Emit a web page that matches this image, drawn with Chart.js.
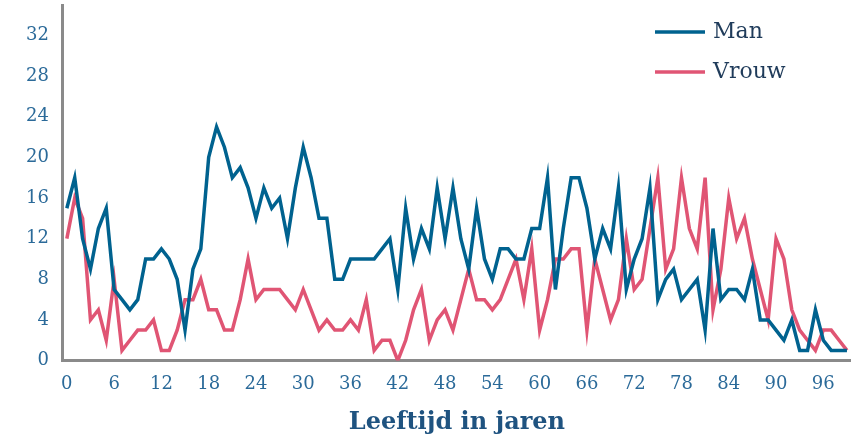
<!DOCTYPE html>
<html>
<head>
<meta charset="utf-8">
<script src="https://cdn.jsdelivr.net/npm/chart.js@4.4.1/dist/chart.umd.min.js"></script>
<style>
  html, body { margin: 0; padding: 0; background: #ffffff; }
  #wrap { width: 860px; height: 440px; position: relative; }
</style>
</head>
<body>
<div id="wrap"><canvas id="ageChart"></canvas></div>
<script>
// ages 0..99
const ages = Array.from({ length: 100 }, (_, i) => String(i));

const man = [
  15, 18, 12, 9, 13, 15, 7, 6, 5, 6,
  10, 10, 11, 10, 8, 3, 9, 11, 20, 23,
  21, 18, 19, 17, 14, 17, 15, 16, 12, 17,
  21, 18, 14, 14, 8, 8, 10, 10, 10, 10,
  11, 12, 7, 15, 10, 13, 11, 17, 12, 17,
  12, 9, 15, 10, 8, 11, 11, 10, 10, 13,
  13, 18, 7, 13, 18, 18, 15, 10, 13, 11,
  17, 7, 10, 12, 17, 6, 8, 9, 6, 7,
  8, 3, 13, 6, 7, 7, 6, 9, 4, 4,
  3, 2, 4, 1, 1, 5, 2, 1, 1, 1
];

const vrouw = [
  12, 16, 14, 4, 5, 2, 8, 1, 2, 3,
  3, 4, 1, 1, 3, 6, 6, 8, 5, 5,
  3, 3, 6, 10, 6, 7, 7, 7, 6, 5,
  7, 5, 3, 4, 3, 3, 4, 3, 6, 1,
  2, 2, 0, 2, 5, 7, 2, 4, 5, 3,
  6, 9, 6, 6, 5, 6, 8, 10, 6, 11,
  3, 6, 10, 10, 11, 11, 3, 10, 7, 4,
  6, 12, 7, 8, 13, 18, 9, 11, 18, 13,
  11, 18, 5, 9, 16, 12, 14, 10, 7, 4,
  12, 10, 5, 3, 2, 1, 3, 3, 2, 1
];

const xTickStep = 6;
const yTickStep = 4;

const serif = "'DejaVu Serif', 'Liberation Serif', serif";

// legend drawn inside the plot, top right, like the original
const cornerLegend = {
    id: 'cornerLegend',
    afterDraw(chart) {
        const ctx = chart.ctx;
        ctx.save();
        chart.data.datasets.forEach(function(ds, i) {
            const y = 32 + i * 40;
            ctx.strokeStyle = ds.borderColor;
            ctx.lineWidth = 3.5;
            ctx.beginPath();
            ctx.moveTo(655, y);
            ctx.lineTo(705, y);
            ctx.stroke();
            ctx.fillStyle = '#1f3b5a';
            ctx.font = "22px " + serif;
            ctx.textBaseline = 'middle';
            ctx.textAlign = 'left';
            ctx.fillText(ds.label, 713, y);
        });
        ctx.restore();
    }
};

new Chart(document.getElementById('ageChart'), {
    type: 'line',
    data: {
        labels: ages,
        datasets: [
            {
                label: 'Man',
                data: man,
                borderColor: '#00628f',
                borderWidth: 3.5,
                pointRadius: 0,
                tension: 0
            },
            {
                label: 'Vrouw',
                data: vrouw,
                borderColor: '#e05574',
                borderWidth: 3.5,
                pointRadius: 0,
                tension: 0
            }
        ]
    },
    options: {
        responsive: true,
        maintainAspectRatio: false,
        animation: false,
        layout: {
            padding: { left: 12, right: 8, top: 5, bottom: 0 }
        },
        plugins: {
            legend: { display: false },
            tooltip: { enabled: false }
        },
        scales: {
            x: {
                type: 'category',
                offset: true,
                grid: { display: false, drawTicks: false },
                border: { display: true, color: '#8a8a8a', width: 3 },
                ticks: {
                    autoSkip: false,
                    maxRotation: 0,
                    padding: 13,
                    color: '#2b6a99',
                    font: { family: serif, size: 18 },
                    callback: function(value, index) {
                        return index % xTickStep === 0 ? this.getLabelForValue(value) : '';
                    }
                },
                title: {
                    display: true,
                    text: 'Leeftijd in jaren',
                    color: '#1f5380',
                    font: { family: serif, size: 24, weight: 'bold' },
                    padding: { top: 0, bottom: 3 }
                }
            },
            y: {
                min: 0,
                max: 35,
                grid: { display: false, drawTicks: false },
                border: { display: true, color: '#8a8a8a', width: 3 },
                afterFit: function(scale) {
                    scale.paddingTop = 0;
                },
                ticks: {
                    stepSize: yTickStep,
                    padding: 14,
                    color: '#2b6a99',
                    font: { family: serif, size: 18 },
                    callback: function(value) {
                        return value % yTickStep === 0 ? value : '';
                    }
                }
            }
        }
    },
    plugins: [cornerLegend]
});
</script>
</body>
</html>
